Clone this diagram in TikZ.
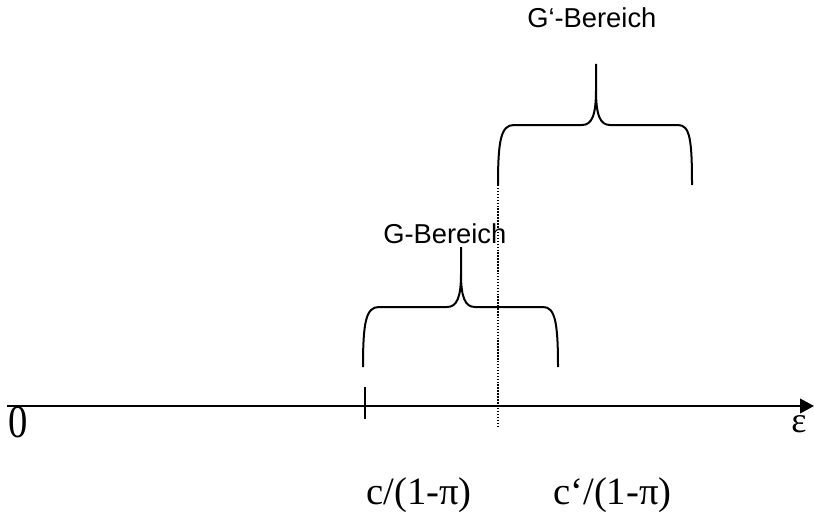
\documentclass[tikz,border=0pt]{standalone}
\usepackage{fontspec}
\setmainfont{Liberation Serif}
\newfontfamily\labelsans{Liberation Sans}
\usetikzlibrary{arrows.meta}

\tikzset{
  axisline/.style={line width=1.4pt, -{Triangle[length=10.5pt,width=11pt]}},
  braceline/.style={line width=1.5pt, line join=round},
  markline/.style={line width=0.8pt, dash pattern=on 1.1pt off 1.1pt},
  ticksty/.style={line width=1.4pt},
  mathlabel/.style={inner sep=0pt, anchor=base west, font=\fontsize{29}{34}\selectfont},
  rangelabel/.style={inner sep=0pt, anchor=base west, font=\labelsans\fontsize{20.5}{24}\selectfont},
}

\begin{document}
\begin{tikzpicture}[x=0.75pt, y=-0.75pt]
\useasboundingbox (0,0) rectangle (814,517);

% axis with end points
\coordinate (origin) at (7,406);
\coordinate (axisend) at (814,406);
\draw[axisline] (origin) -- (axisend);

% tick at c/(1-pi)
\coordinate (ticktop) at (365,387);
\coordinate (tickbot) at (365,419);
\draw[ticksty] (ticktop) -- (tickbot);

% dotted marker at c'/(1-pi)
\coordinate (dottop) at (498,185);
\coordinate (dotbot) at (498,428);
\draw[markline] (dottop) -- (dotbot);

% lower brace (G range)
\draw[braceline] (363,367) .. controls (363,322) and (366,307) .. (379,307)
  -- (447,307) .. controls (457,307) and (461,297) .. (461,274) -- (461,247);
\draw[braceline] (461,274) .. controls (461,297) and (465,307) .. (475,307)
  -- (543,307) .. controls (555,307) and (558,322) .. (558,367);

% upper brace (G' range)
\draw[braceline] (498,185) .. controls (498,140) and (501,125) .. (514,125)
  -- (582,125) .. controls (592,125) and (596,115) .. (596,90) -- (596,64);
\draw[braceline] (596,90) .. controls (596,115) and (600,125) .. (610,125)
  -- (678,125) .. controls (690,125) and (692,140) .. (692,185);

% labels
\node[mathlabel] (zero) at (8,437) {\scalebox{1}[1.2]{0}};
\node[mathlabel, font=\fontsize{27}{32}\selectfont] (eps) at (791,432) {ε};
\node[mathlabel] (cpos) at (366,504) {c/(1-π)};
\node[mathlabel] (cprime) at (553,504) {c‘/(1-π)};
\node[rangelabel] (grange) at (383,243) {G-Bereich};
\node[rangelabel] (gprange) at (527,28) {G‘-Bereich};
\end{tikzpicture}
\end{document}
